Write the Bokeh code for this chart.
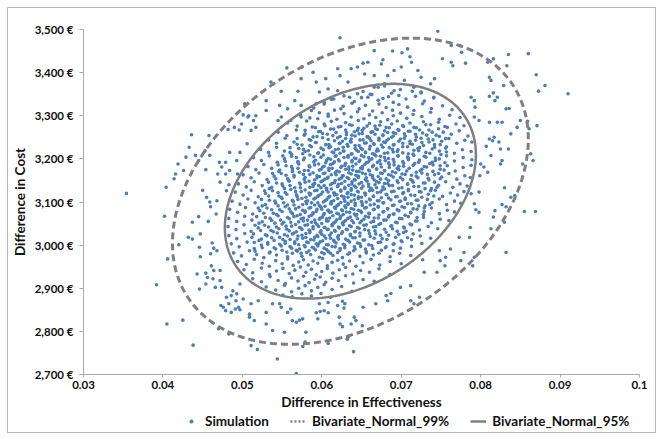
import numpy as np
from bokeh.plotting import figure
from bokeh.layouts import column
from bokeh.models import Range1d, FixedTicker, Legend, LegendItem, ColumnDataSource
from bokeh.embed import file_html
from bokeh.resources import INLINE

# ---------------- data ----------------
x_ticks = [0.03, 0.04, 0.05, 0.06, 0.07, 0.08, 0.09, 0.1]
x_tick_labels = ["0.03", "0.04", "0.05", "0.06", "0.07", "0.08", "0.09", "0.1"]
y_ticks = [2700, 2800, 2900, 3000, 3100, 3200, 3300, 3400, 3500]
y_tick_labels = ["2,700 €", "2,800 €", "2,900 €", "3,000 €", "3,100 €",
                 "3,200 €", "3,300 €", "3,400 €", "3,500 €"]

# bivariate normal ellipses (effectiveness, cost)
ellipse_center_eff = 0.0636
ellipse_center_cost = 3125
ellipse_rho = 0.34
ellipse95_half_eff, ellipse95_half_cost = 0.0158, 249
ellipse99_half_eff, ellipse99_half_cost = 0.0224, 355

# simulated points: (difference in effectiveness x 10000, difference in cost)
sim_outer_left = [(354,3120),(402,3067),(404,3134),(392,2908),(406,2968),(405,2817),(425,2826),(438,2768),(420,3001),(414,3154),(416,3165),(419,3188),(426,3173),(429,3204),(436,3256),(433,3227),(441,3208),(445,3196),(453,3219),(458,3254),(459,3208),(454,3175),(450,3127),(455,3111),(459,3100),(460,3089),(437,3053),(445,3066),(447,3026),(432,3018),(437,3014),(446,2995),(447,2973),(443,2933),(454,2935),(456,2925),(446,2898),(454,2910),(463,2922),(460,2980),(462,3005),(464,2993),(468,2987),(457,3055),(467,3072),(468,3103),(472,3146),(469,3165),(471,3192),(474,3181),(479,3192),(483,3140),(484,3173),(479,3165),(480,3126),(461,2952),(464,2941),(472,2941),(472,2918),(466,2902),(474,2902),(476,2856),(479,2848),(483,2864),(486,2844),(491,2852),(495,2856),(497,2850),(488,2894),(493,2887),(497,2910),(501,2875),(470,2806),(483,2794),(509,2840),(511,2767),(484,3215),(493,3196),(497,3215),(482,3268),(496,3267),(501,3302),(508,3300),(514,3289),(506,3235),(494,3165)]
sim_outer_top = [(623,3481),(536,3378),(556,3411),(574,3386),(575,3413),(549,3357),(570,3357),(566,3335),(589,3401),(593,3378),(605,3386),(608,3362),(597,3355),(620,3409),(623,3393),(633,3378),(637,3409),(645,3413),(652,3422),(658,3424),(666,3451),(675,3420),(677,3430),(689,3450),(701,3446),(708,3455),(711,3437),(713,3424),(700,3413),(691,3405),(683,3393),(666,3393),(654,3397),(721,3405),(725,3389),(742,3386),(746,3496),(557,3316),(574,3324),(547,3324),(530,3335),(517,3300),(507,3297),(530,3312),(545,3289),(587,3312),(593,3328),(603,3331),(615,3339),(620,3358),(503,3328),(517,3273),(499,3281),(490,3273),(511,3266),(549,3297),(561,3289),(574,3297),(595,3293),(608,3304),(624,3316),(635,3343),(645,3351),(658,3343),(666,3366),(679,3374),(691,3358),(704,3382),(716,3366),(725,3355),(737,3374),(741,3343)]
sim_outer_right = [(752,3432),(763,3424),(765,3416),(776,3447),(774,3463),(781,3422),(763,3463),(809,3424),(816,3432),(833,3416),(835,3442),(860,3444),(870,3395),(881,3370),(873,3357),(910,3351),(871,3277),(859,3287),(861,3270),(850,3289),(846,3273),(838,3258),(821,3285),(811,3285),(827,3285),(832,3316),(836,3317),(821,3343),(818,3335),(816,3353),(811,3345),(829,3370),(813,3382),(811,3389),(792,3335),(788,3343),(793,3320),(792,3297),(798,3289),(811,3246),(817,3250),(823,3239),(815,3242),(825,3223),(835,3223),(827,3196),(825,3188),(813,3208),(807,3229),(800,3188),(804,3181),(799,3161),(798,3123),(788,3119),(853,3188),(863,3212),(866,3196),(830,3133),(843,3115),(809,3169),
                   (855,3078),(869,3078),(832,2983),(827,3094),(832,3089),(838,3111),(818,3080),(816,3065),(830,3053),(813,3038),(798,3076),(794,3082),(792,3096),(787,3041),(786,3018),(792,2972),(790,2952),(773,3018),(779,2983),(775,2964),(762,2991),(756,2972),(755,2952),(749,2964),(745,2937),(729,2937),(727,2966),(748,2987)]
sim_outer_bottom = [(544,2736),(640,2753),(568,2702),(519,2758),(576,2765),(579,2775),(580,2798),(608,2772),(632,2782),(538,2802),(553,2798),(530,2817),(563,2825),(568,2821),(572,2826),(576,2829),(595,2829),(593,2843),(598,2846),(603,2848),(608,2843),(622,2833),(623,2817),(626,2811),(637,2817),(641,2833),(643,2825),(651,2813),(633,2786),(620,2860),(626,2870),(629,2864),(628,2854),(597,2864),(608,2867),(652,2856),(668,2864),(681,2883),(683,2871),(687,2888),(699,2902),(712,2906),(716,2864),(712,2871),(723,2879),(480,2879),(486,2883),(473,2860),(492,2871),(509,2833),(515,2825),(538,2864),(547,2864),(549,2856),(557,2844),(561,2852),(530,2844),(520,2871),(511,2864)]
sim_core_upper = [(652,3356),(671,3366),(688,3352),(699,3361),(714,3357),(679,3369),(725,3353),(661,3350),
 (612,3338),(628,3346),(641,3333),(650,3342),(663,3349),(671,3336),(684,3344),(690,3331),(697,3347),(706,3339),(718,3345),(729,3334),(741,3341),(677,3340),
 (590,3318),(603,3327),(616,3313),(627,3322),(638,3329),(647,3316),(655,3324),(664,3311),(672,3327),(681,3319),(689,3313),(697,3326),(708,3320),(716,3312),(727,3328),(738,3317),(752,3323),(764,3314),
 (573,3302),(585,3295),(597,3307),(608,3299),(619,3292),(628,3305),(637,3297),(645,3309),(653,3293),(660,3302),(668,3296),(676,3307),(683,3291),(690,3300),(699,3306),(707,3294),(715,3303),(726,3298),(737,3308),(748,3292),(761,3301),(774,3296),
 (557,3283),(569,3276),(581,3288),(592,3272),(603,3281),(612,3287),(621,3274),(630,3284),(638,3278),(646,3289),(653,3271),(660,3282),(667,3276),(674,3286),(681,3273),(688,3281),(695,3288),(703,3275),(711,3283),(719,3272),(728,3286),(737,3279),(747,3285),(758,3273),(769,3281),(779,3277),
 (545,3262),(556,3254),(568,3267),(579,3258),(589,3251),(598,3264),(607,3257),(615,3269),(623,3252),(631,3261),(638,3255),(645,3266),(651,3259),(658,3252),(664,3263),(670,3268),(677,3256),(683,3261),(690,3253),(697,3266),(704,3258),(711,3264),(719,3251),(727,3260),(735,3267),(744,3255),(753,3262),(763,3257),(773,3265),(784,3253),
 (533,3244),(543,3236),(554,3248),(565,3239),(575,3232),(584,3245),(593,3238),(601,3249),(609,3233),(616,3242),(623,3236),(630,3247),(636,3240),(642,3231),(648,3244),(654,3237),(660,3248),(666,3234),(672,3243),(678,3239),(684,3246),(690,3232),(697,3241),(704,3248),(711,3235),(718,3243),(726,3238),(734,3246),(742,3233),(751,3241),(760,3247),(770,3236),(780,3243),(789,3239),
 (523,3222),(533,3215),(543,3227),(553,3218),(562,3211),(571,3224),(579,3217),(587,3228),(595,3213),(602,3221),(609,3226),(615,3214),(621,3223),(627,3218),(633,3229),(638,3212),(644,3220),(649,3225),(655,3216),(660,3223),(666,3211),(671,3219),(677,3227),(683,3214),(689,3222),(695,3217),(702,3228),(709,3212),(716,3220),(723,3226),(731,3215),(739,3223),(748,3218),(757,3228),(767,3213),(777,3221),(788,3217),
 (514,3203),(524,3196),(534,3207),(544,3192),(553,3200),(562,3206),(570,3194),(578,3202),(585,3209),(592,3197),(599,3204),(605,3191),(611,3199),(617,3206),(622,3195),(628,3203),(633,3208),(638,3193),(643,3201),(648,3197),(653,3205),(658,3192),(663,3200),(668,3207),(673,3196),(679,3203),(684,3191),(690,3199),(696,3206),(702,3194),(709,3202),(716,3208),(723,3197),(731,3204),(739,3192),(748,3200),(757,3207),(767,3195),(778,3203),(789,3198),
 (507,3182),(517,3175),(527,3187),(537,3178),(546,3171),(555,3184),(563,3177),(571,3188),(578,3173),(585,3181),(591,3186),(597,3174),(603,3183),(609,3178),(614,3189),(619,3172),(624,3180),(629,3185),(634,3176),(639,3183),(644,3171),(649,3179),(654,3187),(659,3174),(664,3182),(669,3177),(674,3188),(679,3172),(685,3180),(691,3186),(697,3175),(703,3183),(710,3178),(717,3189),(724,3173),(732,3181),(740,3186),(749,3176),(758,3184),(768,3172),(778,3180),(788,3185),
 (501,3163),(511,3156),(521,3167),(531,3152),(540,3160),(549,3166),(557,3154),(565,3162),(572,3169),(579,3157),(585,3164),(591,3151),(597,3159),(602,3166),(607,3155),(612,3163),(617,3168),(622,3153),(627,3161),(632,3157),(637,3165),(641,3152),(646,3160),(651,3167),(656,3156),(661,3163),(666,3151),(671,3159),(676,3166),(681,3154),(687,3162),(693,3168),(699,3157),(705,3164),(712,3152),(719,3160),(726,3167),(734,3155),(742,3163),(751,3158),(760,3166),(770,3153),(780,3161),(787,3157),
 (495,3142),(505,3135),(515,3147),(525,3138),(534,3131),(543,3144),(551,3137),(559,3148),(566,3133),(573,3141),(579,3146),(585,3134),(591,3143),(596,3138),(601,3149),(606,3132),(611,3140),(616,3145),(620,3136),(625,3143),(629,3131),(634,3139),(638,3147),(643,3134),(647,3142),(652,3137),(657,3148),(662,3132),(667,3140),(672,3145),(677,3135),(683,3143),(689,3138),(695,3149),(701,3133),(708,3141),(715,3146),(722,3136),(730,3144),(738,3131),(747,3139),(756,3147),(765,3134),(774,3142),(783,3137)]
sim_core_lower = [(491,3123),(501,3116),(511,3127),(520,3112),(529,3120),(538,3126),(546,3114),(554,3122),(561,3129),(568,3117),(574,3124),(580,3111),(586,3119),(591,3126),(596,3115),(601,3123),(606,3128),(610,3113),(615,3121),(619,3117),(624,3125),(628,3112),(632,3120),(637,3127),(641,3116),(646,3123),(650,3111),(655,3119),(660,3126),(665,3114),(670,3122),(676,3128),(682,3117),(688,3124),(695,3112),(702,3120),(709,3126),(717,3115),(725,3123),(734,3118),(743,3127),(752,3113),(762,3121),(771,3116),(779,3124),
 (487,3102),(497,3095),(507,3107),(516,3098),(525,3091),(534,3104),(542,3097),(550,3108),(557,3093),(564,3101),(570,3106),(576,3094),(582,3103),(587,3098),(592,3109),(597,3092),(602,3100),(606,3105),(611,3096),(615,3103),(619,3091),(624,3099),(628,3107),(633,3094),(637,3102),(642,3097),(646,3108),(651,3092),(656,3100),(661,3105),(666,3095),(672,3103),(678,3098),(684,3109),(691,3093),(698,3101),(705,3106),(713,3096),(721,3104),(730,3091),(739,3099),(748,3107),(757,3094),(767,3102),(775,3097),
 (484,3083),(494,3076),(504,3087),(513,3072),(522,3080),(531,3086),(539,3074),(547,3082),(554,3089),(561,3077),(567,3084),(573,3071),(579,3079),(584,3086),(589,3075),(594,3083),(599,3088),(603,3073),(608,3081),(612,3077),(617,3085),(621,3072),(626,3080),(630,3087),(635,3076),(640,3083),(644,3071),(649,3079),(654,3086),(659,3074),(665,3082),(671,3088),(677,3077),(683,3084),(690,3072),(697,3080),(704,3087),(712,3075),(720,3083),(729,3078),(738,3086),(748,3073),(758,3081),(767,3077),
 (483,3062),(493,3055),(503,3067),(512,3058),(521,3051),(529,3064),(537,3057),(545,3068),(552,3053),(559,3061),(565,3066),(571,3054),(577,3063),(582,3058),(587,3069),(592,3052),(597,3060),(601,3065),(606,3056),(610,3063),(615,3051),(619,3059),(624,3067),(628,3054),(633,3062),(638,3057),(643,3068),(648,3052),(653,3060),(659,3065),(665,3055),(671,3063),(678,3058),(685,3069),(693,3053),(701,3061),(709,3066),(718,3056),(728,3064),(738,3052),(749,3060),(760,3057),
 (482,3043),(492,3036),(502,3047),(511,3032),(520,3040),(528,3046),(536,3034),(543,3042),(550,3049),(556,3037),(562,3044),(568,3031),(574,3039),(579,3046),(584,3035),(589,3043),(594,3048),(599,3033),(603,3041),(608,3037),(613,3045),(617,3032),(622,3040),(627,3047),(632,3036),(637,3043),(642,3031),(647,3039),(653,3046),(659,3034),(665,3042),(672,3048),(679,3037),(687,3044),(695,3032),(704,3040),(713,3047),(723,3035),(734,3043),(746,3038),
 (483,3022),(493,3015),(503,3027),(512,3018),(521,3011),(529,3024),(537,3017),(544,3028),(551,3013),(557,3021),(563,3026),(569,3014),(575,3023),(580,3018),(585,3029),(590,3012),(595,3020),(600,3025),(605,3016),(610,3023),(615,3011),(620,3019),(625,3027),(630,3014),(636,3022),(642,3017),(648,3028),(654,3012),(661,3020),(668,3026),(676,3015),(684,3023),(693,3018),(703,3029),(713,3013),(724,3021),(737,3016),
 (486,3003),(496,2996),(506,3007),(515,2992),(524,3000),(532,3006),(540,2994),(547,3002),(554,3009),(560,2997),(566,3004),(572,2991),(578,2999),(583,3006),(588,2995),(593,3003),(598,3008),(603,2993),(608,3001),(613,2997),(618,3005),(623,2992),(629,3000),(635,3007),(641,2996),(648,3003),(655,2991),(663,2999),(671,3006),(680,2994),(690,3002),(701,3008),(713,2997),(726,3004),
 (489,2982),(499,2975),(509,2987),(518,2978),(527,2971),(535,2984),(543,2977),(550,2988),(557,2973),(563,2981),(569,2986),(575,2974),(581,2983),(586,2978),(592,2989),(597,2972),(603,2980),(608,2985),(614,2976),(620,2983),(626,2971),(633,2979),(640,2987),(648,2974),(656,2982),(665,2977),(675,2988),(686,2973),(698,2981),(712,2976),
 (494,2962),(505,2955),(515,2967),(525,2958),(534,2951),(542,2964),(550,2957),(557,2968),(564,2953),(571,2961),(577,2966),(583,2954),(589,2963),(595,2958),(601,2969),(607,2952),(613,2960),(620,2965),(627,2956),(635,2963),(643,2951),(652,2959),(662,2967),(673,2954),(686,2962),(700,2957),
 (502,2943),(513,2936),(524,2947),(534,2932),(543,2940),(551,2946),(559,2934),(566,2942),(573,2949),(580,2937),(587,2944),(593,2931),(600,2939),(607,2946),(614,2935),(622,2943),(630,2948),(639,2933),(649,2941),(660,2937),(672,2945),(686,2932),
 (513,2922),(524,2915),(535,2927),(545,2918),(554,2911),(562,2924),(570,2917),(577,2928),(584,2913),(591,2921),(598,2926),(605,2914),(613,2923),(621,2918),(630,2929),(640,2912),(652,2920),(666,2916),
 (530,2903),(542,2896),(553,2907),(562,2892),(571,2900),(579,2906),(587,2894),(595,2902),(603,2908),(613,2897),(625,2904),(638,2893),
 (551,2884),(563,2880),(575,2887),(587,2882),(599,2888),(611,2879)]
sim_core_dense_upper = [(579,3266),(588,3274),(596,3263),(604,3277),(611,3269),(618,3261),(624,3275),(630,3267),(635,3279),(641,3263),(646,3271),(651,3266),(657,3276),(662,3262),(668,3270),(673,3278),(679,3265),(685,3272),(690,3261),(696,3268),(702,3277),(709,3264),(716,3273),(723,3267),(731,3279),(739,3262),(747,3270),(755,3275),
 (569,3247),(578,3255),(586,3243),(594,3252),(601,3259),(608,3245),(614,3254),(620,3249),(626,3241),(631,3256),(637,3246),(642,3253),(647,3258),(652,3244),(657,3251),(662,3242),(667,3257),(672,3248),(677,3254),(682,3243),(688,3250),(693,3259),(699,3246),(705,3253),(711,3241),(718,3257),(725,3248),(732,3255),(740,3244),(748,3252),(756,3247),
 (560,3226),(569,3234),(577,3222),(585,3231),(592,3238),(599,3225),(605,3233),(611,3228),(617,3221),(622,3236),(627,3227),(632,3234),(637,3239),(642,3224),(647,3231),(651,3222),(656,3237),(661,3229),(665,3235),(670,3223),(675,3232),(680,3238),(685,3226),(691,3233),(696,3221),(702,3236),(708,3228),(714,3234),(721,3224),(728,3231),(735,3239),(742,3227),(749,3233),(756,3225),
 (551,3207),(560,3215),(568,3203),(576,3212),(583,3219),(590,3205),(596,3214),(602,3209),(608,3201),(613,3216),(618,3207),(623,3213),(628,3218),(633,3204),(637,3211),(641,3202),(646,3217),(650,3208),(655,3214),(659,3203),(664,3212),(669,3218),(674,3206),(679,3213),(684,3201),(690,3216),(696,3208),(702,3214),(708,3204),(715,3211),(722,3219),(729,3206),(736,3213),(743,3202),(750,3210),(757,3216),
 (545,3186),(554,3194),(562,3182),(570,3191),(577,3198),(584,3184),(590,3193),(596,3188),(601,3181),(606,3196),(611,3187),(616,3193),(621,3198),(625,3183),(630,3190),(634,3181),(638,3196),(643,3188),(647,3194),(651,3182),(656,3191),(660,3197),(665,3185),(670,3192),(675,3181),(680,3196),(685,3187),(691,3193),(697,3183),(703,3190),(709,3198),(715,3185),(722,3192),(729,3182),(736,3189),(743,3196),(749,3184),(755,3191),
 (538,3166),(547,3174),(555,3162),(563,3171),(570,3178),(577,3164),(583,3173),(589,3168),(594,3161),(599,3176),(604,3167),(609,3173),(613,3178),(618,3163),(622,3170),(626,3161),(630,3176),(634,3168),(639,3174),(643,3162),(647,3171),(651,3177),(655,3165),(660,3172),(664,3161),(669,3176),(674,3167),(679,3173),(684,3163),(689,3170),(695,3178),(701,3165),(707,3172),(713,3162),(719,3169),(726,3176),(733,3164),(740,3171),(747,3166),(754,3174),
 (533,3146),(542,3154),(550,3142),(558,3151),(565,3158),(572,3144),(578,3153),(584,3148),(589,3141),(594,3156),(599,3147),(604,3153),(608,3158),(613,3143),(617,3150),(621,3141),(625,3156),(629,3148),(634,3154),(638,3142),(642,3151),(646,3157),(650,3145),(655,3152),(659,3141),(664,3156),(669,3147),(674,3153),(679,3143),(684,3150),(690,3158),(696,3145),(702,3152),(708,3142),(714,3149),(721,3156),(728,3144),(735,3151),(742,3146),(749,3154)]
sim_core_dense_lower = [(528,3126),(537,3134),(545,3122),(553,3131),(560,3138),(567,3124),(573,3133),(579,3128),(584,3121),(589,3136),(594,3127),(599,3133),(603,3138),(608,3123),(612,3130),(616,3121),(620,3136),(624,3128),(629,3134),(633,3122),(637,3131),(641,3137),(645,3125),(650,3132),(654,3121),(659,3136),(664,3127),(669,3133),(674,3123),(679,3130),(685,3138),(691,3125),(697,3132),(703,3122),(709,3129),(716,3136),(723,3124),(730,3131),(737,3126),(745,3134),
 (524,3106),(533,3114),(541,3102),(549,3111),(556,3118),(563,3104),(569,3113),(575,3108),(580,3101),(585,3116),(590,3107),(595,3113),(599,3118),(604,3103),(608,3110),(612,3101),(616,3116),(620,3108),(625,3114),(629,3102),(633,3111),(637,3117),(641,3105),(646,3112),(650,3101),(655,3116),(660,3107),(665,3113),(670,3103),(675,3110),(681,3118),(687,3105),(693,3112),(699,3102),(705,3109),(712,3116),(719,3104),(726,3111),(733,3106),(741,3114),
 (520,3086),(529,3094),(537,3082),(545,3091),(552,3098),(559,3084),(565,3093),(571,3088),(576,3081),(581,3096),(586,3087),(591,3093),(595,3098),(600,3083),(604,3090),(608,3081),(612,3096),(616,3088),(621,3094),(625,3082),(629,3091),(633,3097),(637,3085),(642,3092),(646,3081),(651,3096),(656,3087),(661,3093),(666,3083),(671,3090),(677,3098),(683,3085),(689,3092),(695,3082),(701,3089),(708,3096),(715,3084),(722,3091),(729,3086),(736,3094),
 (518,3066),(527,3074),(535,3062),(543,3071),(550,3078),(557,3064),(563,3073),(569,3068),(574,3061),(579,3076),(584,3067),(589,3073),(593,3078),(598,3063),(602,3070),(606,3061),(610,3076),(614,3068),(619,3074),(623,3062),(627,3071),(631,3077),(636,3065),(641,3072),(645,3061),(650,3076),(655,3067),(660,3073),(666,3063),(672,3070),(678,3078),(684,3065),(691,3072),(698,3062),(705,3069),(712,3076),(720,3064),(728,3071),
 (516,3046),(525,3054),(533,3042),(541,3051),(548,3058),(555,3044),(561,3053),(567,3048),(572,3041),(577,3056),(582,3047),(587,3053),(591,3058),(596,3043),(600,3050),(604,3041),(608,3056),(613,3048),(617,3054),(621,3042),(626,3051),(630,3057),(635,3045),(640,3052),(645,3041),(650,3056),(656,3047),(662,3053),(668,3043),(674,3050),(681,3058),(688,3045),(695,3052),(703,3042),(711,3049),(720,3056),
 (514,3026),(523,3034),(531,3022),(539,3031),(546,3038),(553,3024),(559,3033),(565,3028),(570,3021),(575,3036),(580,3027),(585,3033),(589,3038),(594,3023),(598,3030),(603,3021),(607,3036),(612,3028),(616,3034),(621,3022),(626,3031),(631,3037),(636,3025),(642,3032),(648,3021),(654,3036),(660,3027),(667,3033),(674,3023),(681,3030),(689,3038),(697,3025),(706,3032),(715,3026),
 (515,3006),(524,3014),(532,3002),(540,3011),(547,3018),(554,3004),(560,3013),(566,3008),(571,3001),(576,3016),(581,3007),(586,3013),(591,3018),(596,3003),(601,3010),(606,3001),(611,3016),(616,3008),(621,3014),(627,3002),(633,3011),(639,3017),(645,3005),(652,3012),(659,3001),(666,3016),(674,3007),(682,3013),(691,3003),(700,3010),(708,3017),
 (516,2986),(525,2994),(534,2982),(542,2991),(549,2998),(556,2984),(562,2993),(568,2988),(574,2981),(579,2996),(584,2987),(590,2993),(595,2998),(600,2983),(606,2990),(611,2981),(617,2996),(623,2988),(629,2994),(635,2982),(642,2991),(649,2997),(656,2985),(664,2992),(672,2981),(681,2996),(690,2987),(699,2993)]

series_labels = ["Simulation", "Bivariate_Normal_99%", "Bivariate_Normal_95%"]

# ---------------- styling ----------------
FONT = "Lato"
TEXT = "#111111"
AXIS = "#a9a9a9"
BLUE = "#4a7ebb"
GREY = "#7f7f7f"

points = (sim_outer_left + sim_outer_top + sim_outer_right + sim_outer_bottom +
          sim_core_upper + sim_core_lower + sim_core_dense_upper + sim_core_dense_lower)
sim_eff = [pt[0] / 10000 for pt in points]
sim_cost = [pt[1] for pt in points]
src = ColumnDataSource(dict(eff=sim_eff, cost=sim_cost))

t = np.linspace(0, 2 * np.pi, 361)
def ellipse(half_eff, half_cost):
    ex = ellipse_center_eff + half_eff * np.cos(t)
    ey = ellipse_center_cost + half_cost * (ellipse_rho * np.cos(t) +
                                            np.sqrt(1 - ellipse_rho ** 2) * np.sin(t))
    return ex, ey

x95, y95 = ellipse(ellipse95_half_eff, ellipse95_half_cost)
x99, y99 = ellipse(ellipse99_half_eff, ellipse99_half_cost)

# ---------------- main chart ----------------
p = figure(width=647, height=405,
           min_border_left=74, min_border_right=16, min_border_top=21, min_border_bottom=39,
           x_range=Range1d(x_ticks[0], x_ticks[-1]), y_range=Range1d(y_ticks[0], y_ticks[-1]),
           output_backend="svg", toolbar_location=None,
           background_fill_color="white", border_fill_color="white")
p.outline_line_color = None
p.xgrid.visible = False
p.ygrid.visible = False

r_sim = p.scatter("eff", "cost", source=src, size=3.6, marker="circle",
                  fill_color=BLUE, line_color=None)
r99 = p.line(x99, y99, line_color=GREY, line_width=3, line_dash="7 4")
r95 = p.line(x95, y95, line_color=GREY, line_width=2.5)

for ax in (p.xaxis[0], p.yaxis[0]):
    ax.axis_line_color = AXIS
    ax.axis_line_width = 1
    ax.major_tick_line_color = AXIS
    ax.minor_tick_line_color = None
    ax.major_tick_in = 0
    ax.major_tick_out = 4
    ax.major_label_text_font = FONT
    ax.major_label_text_font_style = "bold"
    ax.major_label_text_font_size = "11.5px"
    ax.major_label_text_color = TEXT
    ax.axis_label_text_font = FONT
    ax.axis_label_text_font_style = "bold"
    ax.axis_label_text_font_size = "13.5px"
    ax.axis_label_text_color = TEXT

p.xaxis.ticker = FixedTicker(ticks=x_ticks)
p.xaxis.major_label_overrides = dict(zip(x_ticks, x_tick_labels))
p.yaxis.ticker = FixedTicker(ticks=y_ticks)
p.yaxis.major_label_overrides = dict(zip(y_ticks, y_tick_labels))
p.xaxis.axis_label = "Difference in Effectiveness"
p.yaxis.axis_label = "Difference in Cost"
p.xaxis.major_tick_out = 3
p.xaxis.major_label_standoff = 3
p.xaxis.axis_label_standoff = 2
p.yaxis.major_label_standoff = 6
p.yaxis.axis_label_standoff = 4

# ---------------- legend strip ----------------
pl = figure(width=647, height=19, min_border=0,
            x_range=Range1d(x_ticks[0], x_ticks[-1]), y_range=Range1d(y_ticks[0], y_ticks[-1]),
            x_axis_type=None, y_axis_type=None,
            output_backend="svg", toolbar_location=None,
            background_fill_color="white", border_fill_color="white")
pl.outline_line_color = None
pl.grid.visible = False
k_sim = pl.scatter("eff", "cost", source=src, size=6, marker="circle",
                   fill_color=BLUE, line_color=None, visible=False)
k99 = pl.line(x99, y99, line_color=GREY, line_width=2.5, line_dash="2 2", visible=False)
k95 = pl.line(x95, y95, line_color=GREY, line_width=2.5, visible=False)

legend = Legend(items=[LegendItem(label=series_labels[0], renderers=[k_sim]),
                       LegendItem(label=series_labels[1], renderers=[k99]),
                       LegendItem(label=series_labels[2], renderers=[k95])],
                orientation="horizontal", location=(100, 3),
                label_text_font=FONT, label_text_font_style="bold",
                label_text_font_size="13.5px", label_text_color=TEXT,
                label_height=12, label_width=10, label_text_line_height=1.0,
                glyph_width=16, glyph_height=10, label_standoff=6, spacing=21,
                padding=0, margin=0, border_line_color=None, background_fill_alpha=0,
                inactive_fill_alpha=0)
pl.add_layout(legend, "center")

layout = column(p, pl, spacing=0)
layout.styles = {"margin": "7px 0 0 7px", "border": "1px solid #b8b8b8"}

open("out.html", "w").write(file_html(layout, INLINE))
